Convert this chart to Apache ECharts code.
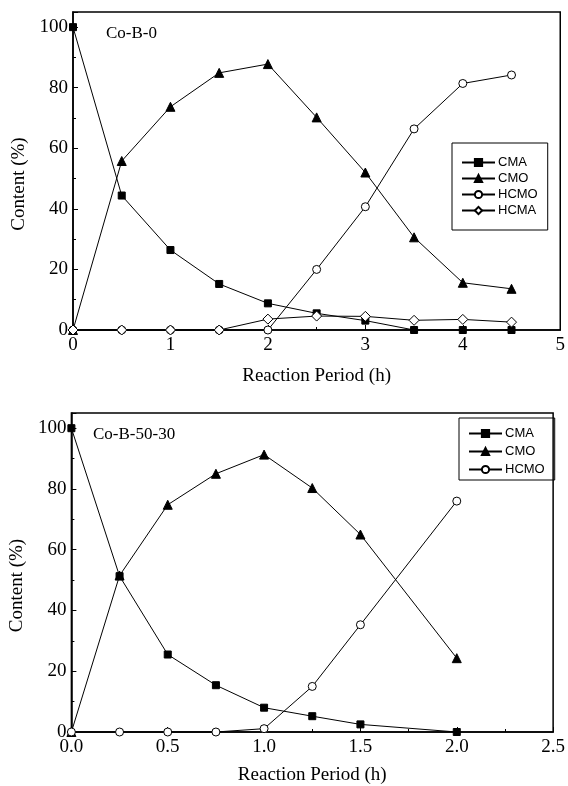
<!DOCTYPE html>
<html>
<head>
<meta charset="utf-8">
<script src="https://cdn.jsdelivr.net/npm/echarts@6/dist/echarts.min.js"></script>
<style>
html, body { margin: 0; padding: 0; background: #fff; }
#main { width: 568px; height: 786px; }
</style>
</head>
<body>
<div id="main"></div>
<script>
// Co-B-0 (upper panel)
var topHours = [0, 0.5, 1, 1.5, 2, 2.5, 3, 3.5, 4, 4.5];
var topCMA  = [100, 44.4, 26.4, 15.2, 8.8, 5.5, 3.1, 0, 0, 0];
var topCMO  = [0, 55.8, 73.7, 84.9, 87.8, 70.2, 52, 30.6, 15.6, 13.6];
var topHCMO = [0, 0, 0, 0, 0, 20, 40.7, 66.4, 81.4, 84.2];
var topHCMA = [0, 0, 0, 0, 3.6, 4.6, 4.5, 3.2, 3.5, 2.6];

// Co-B-50-30 (lower panel)
var botHours = [0, 0.25, 0.5, 0.75, 1, 1.25, 1.5, 2];
var botCMA  = [100, 51.3, 25.5, 15.4, 8.0, 5.2, 2.5, 0];
var botCMO  = [0, 51.5, 74.8, 85, 91.3, 80.3, 65, 24.3];
var botHCMO = [0, 0, 0, 0, 1.1, 15, 35.3, 76];

var serif = 'Liberation Serif';
var sans = 'Liberation Sans';

function pairs(xs, ys) {
    return xs.map(function (x, i) { return [x, ys[i]]; });
}

// marker look per compound
var markers = {
    CMA:  { symbol: 'rect', size: 7, fill: '#000' },
    CMO:  { symbol: 'triangle', size: 9, fill: '#000' },
    HCMO: { symbol: 'circle', size: 8, fill: '#fff' },
    HCMA: { symbol: 'diamond', size: 10, fill: '#fff' }
};

function makeSeries(name, idx, xs, ys) {
    var m = markers[name];
    return {
        name: name,
        type: 'line',
        xAxisIndex: idx,
        yAxisIndex: idx,
        data: pairs(xs, ys),
        symbol: m.symbol,
        symbolSize: m.size,
        showAllSymbol: true,
        clip: false,
        lineStyle: { color: '#000', width: 1 },
        itemStyle: { color: m.fill, borderColor: '#000', borderWidth: 1 },
        emphasis: { disabled: true },
        animation: false
    };
}

function xAxis(idx, max, step, dec) {
    return {
        type: 'value',
        gridIndex: idx,
        min: 0,
        max: max,
        interval: step,
        name: 'Reaction Period (h)',
        nameLocation: 'middle',
        nameGap: idx === 0 ? 37 : 34,
        nameTextStyle: { fontFamily: serif, fontSize: 19, color: '#000' },
        axisLine: { lineStyle: { color: '#000', width: 1.5 } },
        axisTick: { inside: true, length: 5, lineStyle: { color: '#000' } },
        minorTick: { show: true, splitNumber: 2, length: 3, lineStyle: { color: '#000' } },
        splitLine: { show: false },
        axisLabel: {
            fontFamily: serif, fontSize: 19, color: '#000', margin: 6,
            formatter: function (v) { return dec ? v.toFixed(1) : String(v); }
        }
    };
}

function yAxis(idx) {
    return {
        type: 'value',
        gridIndex: idx,
        min: 0,
        max: 105,
        interval: 20,
        name: 'Content (%)',
        nameLocation: 'middle',
        nameGap: 44,
        // push the rotated title a little below the middle, as in the original
        nameTextStyle: { fontFamily: serif, fontSize: 19, color: '#000', padding: [0, 26, 0, 0] },
        axisLine: { show: true, lineStyle: { color: '#000', width: 1.5 } },
        axisTick: { inside: true, length: 5, lineStyle: { color: '#000' } },
        minorTick: { show: true, splitNumber: 2, length: 3, lineStyle: { color: '#000' } },
        splitLine: { show: false },
        axisLabel: { fontFamily: serif, fontSize: 19, color: '#000', margin: 5, showMaxLabel: false }
    };
}

function legend(names, left, top, gap, pad) {
    return {
        data: names,
        orient: 'vertical',
        left: left,
        top: top,
        itemWidth: 33,
        itemHeight: 9,
        itemGap: gap,
        padding: pad,
        borderColor: '#000',
        borderWidth: 1,
        borderRadius: 0,
        selectedMode: false,
        textStyle: { fontFamily: sans, fontSize: 13, color: '#000', padding: [0, 0, 0, -2] }
    };
}

var chart = echarts.init(document.getElementById('main'));
chart.setOption({
    backgroundColor: '#fff',
    animation: false,
    title: [
        { text: 'Co-B-0', left: 106, top: 25, textStyle: { fontFamily: serif, fontSize: 17, fontWeight: 'normal', color: '#000' }, padding: 0 },
        { text: 'Co-B-50-30', left: 93, top: 426, textStyle: { fontFamily: serif, fontSize: 17, fontWeight: 'normal', color: '#000' }, padding: 0 }
    ],
    grid: [
        { left: 73, top: 12, width: 492, height: 318, show: true, borderColor: '#000', borderWidth: 1.5, backgroundColor: 'transparent' },
        { left: 70, top: 413, width: 493, height: 319, show: true, borderColor: '#000', borderWidth: 1.5, backgroundColor: 'transparent' }
    ],
    xAxis: [xAxis(0, 5, 1, false), xAxis(1, 2.5, 0.5, true)],
    yAxis: [yAxis(0), yAxis(1)],
    legend: [
        legend(['CMA', 'CMO', 'HCMO', 'HCMA'], 452, 143, 3, [13, 10, 13, 9]),
        legend(['CMA', 'CMO', 'HCMO'], 459, 418, 5, [9, 10, 4, 9])
    ],
    series: [
        makeSeries('CMA', 0, topHours, topCMA),
        makeSeries('CMO', 0, topHours, topCMO),
        makeSeries('HCMO', 0, topHours, topHCMO),
        makeSeries('HCMA', 0, topHours, topHCMA),
        makeSeries('CMA', 1, botHours, botCMA),
        makeSeries('CMO', 1, botHours, botCMO),
        makeSeries('HCMO', 1, botHours, botHCMO)
    ]
});
</script>
</body>
</html>
